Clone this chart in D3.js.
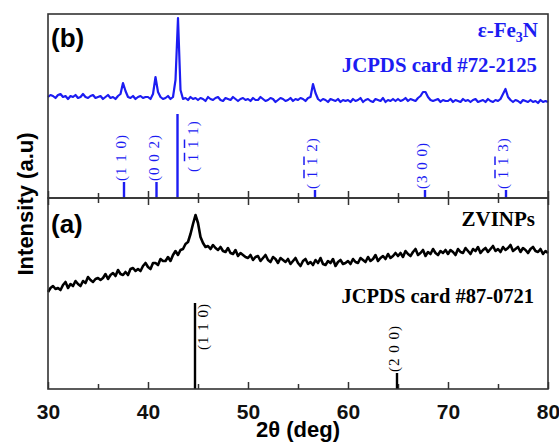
<!doctype html>
<html lang="en">
<head>
<meta charset="utf-8" />
<title>XRD — ZVINPs / ε-Fe3N</title>
<script src="https://cdn.jsdelivr.net/npm/d3@7/dist/d3.min.js"></script>
<style>
  html, body { margin: 0; padding: 0; background: #fff; }
  svg { display: block; }
  .sans { font-family: "Liberation Sans", Arial, sans-serif; font-weight: 700; }
  .serif { font-family: "Liberation Serif", "Times New Roman", serif; }
  .tick text { font-family: "Liberation Sans", Arial, sans-serif; font-weight: 700; font-size: 21px; fill: #111; }
  .tick line { stroke: #333; stroke-width: 1.5; }
</style>
</head>
<body>
<svg id="chart" width="559" height="442"></svg>
<script>
// scans are sampled on a regular 2θ grid
const scanStart = 30;
const scanStep = 0.25;

// (b) ε-Fe3N scan, intensity (a.u.), one row per 5°
const fe3nCounts = [
  101,103,102,100,103,104,101,102,99,102,101,103,100,101,104,101,100,102,103,100,
  101,102,99,101,103,100,101,99,102,104,115,107,101,100,102,99,101,102,100,101,
  101,99,104,121,106,101,99,100,102,99,101,118,180,108,99,100,98,101,99,100,
  98,100,99,97,101,99,98,100,101,98,97,100,99,98,101,99,97,99,100,98,
  99,97,100,98,98,101,99,97,98,100,99,96,98,100,99,97,98,100,97,99,
  98,100,99,97,100,101,114,105,99,97,99,98,96,99,98,97,99,96,98,97,
  98,96,99,97,98,100,96,98,99,97,96,99,98,97,100,96,98,97,99,97,
  99,97,98,100,97,99,98,97,100,102,106,106,101,98,97,98,99,96,98,97,
  97,99,96,98,97,96,99,97,98,96,98,99,96,97,98,96,99,97,96,98,
  97,99,104,109,101,98,96,98,97,95,98,97,96,98,96,97,95,98,96,97,
  96
];
const fe3nRefPos = [37.6, 40.85, 42.95, 56.7, 67.7, 75.8];
const fe3nRefInt = [16, 16, 84, 8, 8, 8];
const fe3nHkl = [['1','1','0'], ['0','0','2'], ['-1','-1','1'], ['-1','-1','2'], ['3','0','0'], ['-1','-1','3']];

// (a) ZVINPs scan, intensity (a.u.), one row per 5°
const zviCounts = [
  97,101,103,100,101,99,104,107,101,105,103,108,105,103,108,106,112,109,107,110,
  111,109,111,115,110,114,116,113,119,115,114,117,114,120,121,118,120,118,123,126,
  122,120,126,126,124,130,128,128,132,128,134,138,134,139,140,145,147,155,165,174,
  166,152,146,142,143,140,144,141,139,142,138,137,141,136,135,139,133,136,134,132,
  131,134,129,132,133,128,131,134,129,127,132,130,126,131,129,127,130,125,128,131,
  126,123,128,130,125,127,124,129,126,131,125,124,128,126,130,123,127,129,125,126,
  128,125,130,127,126,131,129,127,132,128,130,134,128,131,133,130,135,131,133,136,
  133,136,132,138,135,133,137,140,134,136,139,133,137,135,140,136,134,138,136,139,
  135,139,137,134,140,137,136,141,138,135,140,138,142,136,139,141,137,140,143,138,
  140,137,142,139,141,144,138,140,142,137,141,139,136,140,142,138,137,140,135,138,
  136
];
const feRefPos = [44.7, 64.9];
const feRefInt = [86, 16];
const feHkl = [['1','1','0'], ['2','0','0']];

const xMajor = [30, 40, 50, 60, 70, 80];
const xMinor = [35, 45, 55, 65, 75];

const BLUE = '#1c1cf2';
const svg = d3.select('#chart');
svg.append('rect').attr('width', 559).attr('height', 442).attr('fill', '#fff');

const x = d3.scaleLinear([30, 80], [48, 548]);
const yB = d3.scaleLinear([0, 184], [198, 14]);
const yA = d3.scaleLinear([0, 191], [389, 198]);

// ticks, all pointing inward
function ticks(axis, y, values, size, labels) {
  const g = svg.append('g').attr('transform', `translate(0,${y})`)
    .call(axis(x).tickValues(values).tickSizeInner(size).tickSizeOuter(0).tickPadding(15)
      .tickFormat(labels ? d3.format('d') : () => ''));
  g.select('.domain').remove();
  return g;
}
ticks(d3.axisBottom, 389, xMajor, -7, true);
ticks(d3.axisBottom, 389, xMinor, -5, false);
ticks(d3.axisBottom, 198, xMajor, -7, false);
ticks(d3.axisBottom, 198, xMinor, -5, false);
ticks(d3.axisTop, 198, xMajor, -7, false);
ticks(d3.axisTop, 198, xMinor, -5, false);

// scans
const theta = i => scanStart + i * scanStep;
const lineB = d3.line().x((d, i) => x(theta(i))).y(d => yB(d));
const lineA = d3.line().x((d, i) => x(theta(i))).y(d => yA(d));
svg.append('path').datum(fe3nCounts).attr('d', lineB).attr('fill', 'none')
  .attr('stroke', BLUE).attr('stroke-width', 2.2).attr('stroke-linejoin', 'round');
svg.append('path').datum(zviCounts).attr('d', lineA).attr('fill', 'none')
  .attr('stroke', '#000').attr('stroke-width', 2.6).attr('stroke-linejoin', 'round');

// hkl label with overlined digits ('-1' = 1 with bar)
function hkl(sel, idx) {
  sel.append('tspan').text(idx[0].startsWith('-') ? '( ' : '(');
  idx.forEach((d, i) => {
    const t = sel.append('tspan').text(d.replace('-', ''));
    if (d.startsWith('-')) t.style('text-decoration', 'overline');
    if (i < idx.length - 1) sel.append('tspan').text(' ');
  });
  sel.append('tspan').text(')');
}

// reference sticks
function sticks(pos, ints, idx, y, color, side) {
  pos.forEach((p, i) => {
    svg.append('line').attr('x1', x(p)).attr('x2', x(p))
      .attr('y1', y(0)).attr('y2', y(ints[i]))
      .attr('stroke', color).attr('stroke-width', 2.4);
    const tall = side(i);
    const dx = tall ? tall : -3;
    const y0 = tall ? y(ints[i]) + (tall > 10 ? 58 : 47) : y(ints[i]) - 1;
    const t = svg.append('text').attr('class', 'serif')
      .attr('transform', `translate(${x(p) + dx},${y0}) rotate(-90)`)
      .attr('dy', '0.35em').attr('font-size', 15).attr('letter-spacing', 1)
      .attr('fill', color);
    hkl(t, idx[i]);
  });
}
sticks(fe3nRefPos, fe3nRefInt, fe3nHkl, yB, BLUE, i => (i === 2 ? 15 : 0));
sticks(feRefPos, feRefInt, feHkl, yA, '#000', i => (i === 0 ? 8 : 0));

// frames
svg.append('rect').attr('x', 48).attr('y', 14).attr('width', 500).attr('height', 184)
  .attr('fill', 'none').attr('stroke', '#333').attr('stroke-width', 1.6);
svg.append('rect').attr('x', 48).attr('y', 198).attr('width', 500).attr('height', 191)
  .attr('fill', 'none').attr('stroke', '#333').attr('stroke-width', 1.6);

// panel texts
svg.append('text').attr('class', 'sans').attr('x', 51).attr('y', 47).attr('font-size', 26).text('(b)');
svg.append('text').attr('class', 'sans').attr('x', 51).attr('y', 233).attr('font-size', 26).text('(a)');

const fe = svg.append('text').attr('class', 'serif').attr('font-weight', 700).attr('font-size', 21)
  .attr('fill', BLUE).attr('text-anchor', 'end').attr('x', 538).attr('y', 37);
fe.append('tspan').text('ε-Fe');
fe.append('tspan').attr('font-size', 14).attr('dy', 5).text('3');
fe.append('tspan').attr('dy', -5).text('N');
svg.append('text').attr('class', 'serif').attr('font-weight', 700).attr('font-size', 20.8)
  .attr('fill', BLUE).attr('text-anchor', 'end').attr('x', 537).attr('y', 72).text('JCPDS card #72-2125');

svg.append('text').attr('class', 'serif').attr('font-weight', 700).attr('font-size', 21)
  .attr('text-anchor', 'end').attr('x', 535).attr('y', 226).text('ZVINPs');
svg.append('text').attr('class', 'serif').attr('font-weight', 700).attr('font-size', 20.5)
  .attr('text-anchor', 'end').attr('x', 534).attr('y', 303).text('JCPDS card #87-0721');

// axis titles
svg.append('text').attr('class', 'sans').attr('font-size', 22).attr('text-anchor', 'middle')
  .attr('x', 298).attr('y', 437).text('2θ (deg)');
svg.append('text').attr('class', 'sans').attr('font-size', 22)
  .attr('text-anchor', 'middle').attr('transform', 'translate(33,204) rotate(-90)').text('Intensity (a.u)');
</script>
</body>
</html>
